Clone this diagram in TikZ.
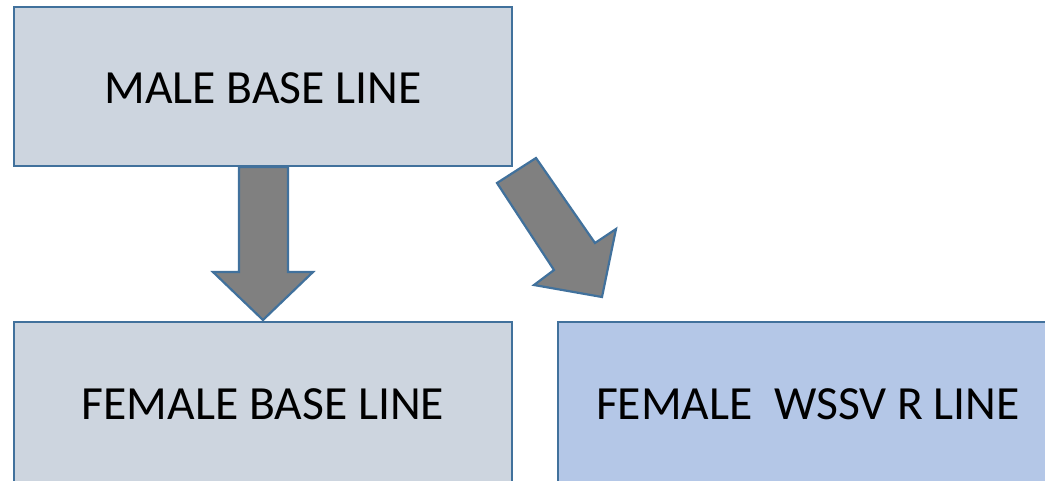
\documentclass[tikz,border=0pt]{standalone}
\usepackage{fontspec}
\setmainfont{Carlito}
\usepackage{tikz}
\usetikzlibrary{positioning,calc}
\usepackage{xcolor}
\definecolor{boxline}{HTML}{41719C}
\definecolor{greybox}{HTML}{CDD5DF}
\definecolor{bluebox}{HTML}{B4C7E7}
\definecolor{arrowfill}{HTML}{808080}

\begin{document}
\begin{tikzpicture}[
    x=1pt, y=-1pt,
    every node/.style={font=\fontsize{47.6}{52}\selectfont},
    linebox/.style={draw=boxline, line width=2.2pt},
    blockarrow/.style={draw=boxline, fill=arrowfill, line width=2.2pt, line join=miter}
]
    % Canvas of the reference (boxes run off the right and bottom edges)
    \clip (0, 0) rectangle (1045, 480);

    % Boxes
    \draw[linebox, fill=greybox] (14, 7) rectangle (512, 166);
    \draw[linebox, fill=greybox] (14, 322) rectangle (512, 500);
    \draw[linebox, fill=bluebox] (558, 322) rectangle (1070, 500);

    % Labels
    \node (maleBase) at (263, 88) {MALE BASE LINE};
    \node (femaleBase) at (263, 404) {FEMALE BASE LINE};
    \node (femaleR) at (808, 404) {FEMALE\ \ WSSV R LINE};

    % Straight block arrow down to the female base line
    \draw[blockarrow] (239, 167) -- (288, 167) -- (288, 272) -- (313, 272)
        -- (263, 320) -- (213, 272) -- (239, 272) -- cycle;

    % Slanted block arrow towards the WSSV line
    \draw[blockarrow] (497, 183) -- (536, 158) -- (595, 243) -- (616, 229)
        -- (602, 297) -- (534, 285) -- (554, 270) -- cycle;

\end{tikzpicture}
\end{document}
